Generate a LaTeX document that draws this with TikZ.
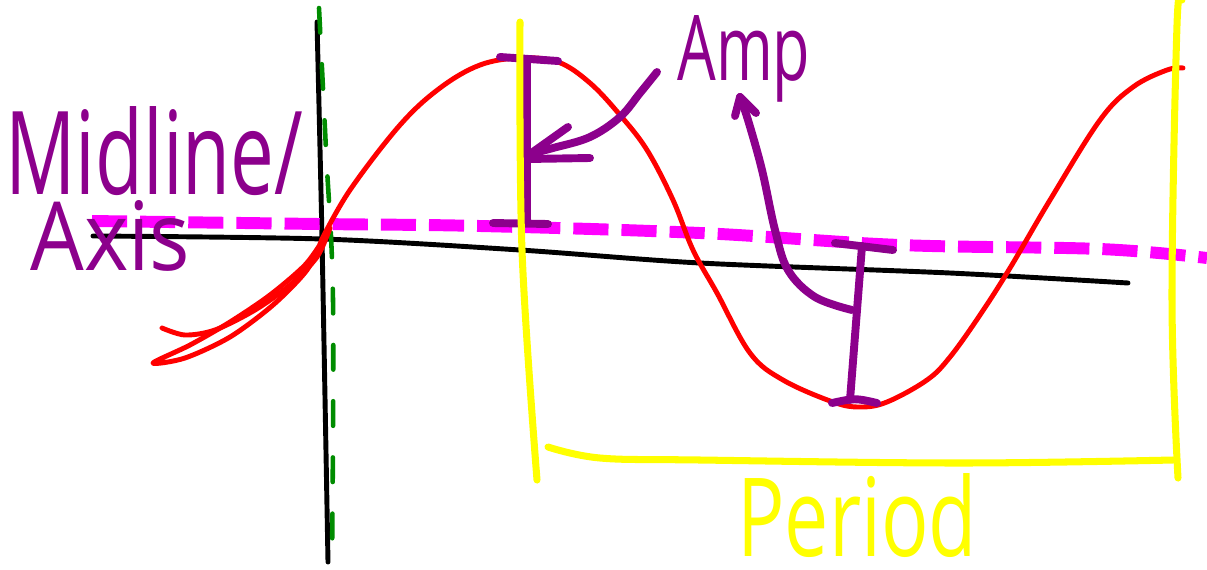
\documentclass[tikz,border=0pt]{standalone}
\usepackage{fontspec}
\setmainfont{Open Sans}
\usetikzlibrary{positioning}
\definecolor{sketchred}{RGB}{255,0,0}
\definecolor{sketchpurple}{RGB}{140,0,140}
\definecolor{sketchmagenta}{RGB}{255,0,255}
\definecolor{sketchyellow}{RGB}{255,255,0}
\definecolor{sketchgreen}{RGB}{0,140,0}

\begin{document}
\begin{tikzpicture}[
    x=0.02cm, y=-0.02cm,
    pen/.style={line cap=round, line join=round},
    axisline/.style={pen, draw=black, line width=2.8pt},
    guideline/.style={pen, draw=sketchgreen, line width=2.6pt, dash pattern=on 14pt off 18pt},
    midline/.style={draw=sketchmagenta, line width=6.8pt, dash pattern=on 20pt off 7.4pt},
    wave/.style={pen, draw=sketchred, line width=2.8pt},
    ampstroke/.style={pen, draw=sketchpurple, line width=4.5pt},
    periodline/.style={pen, draw=sketchyellow, line width=4pt},
    handtext/.style={inner sep=0pt, anchor=base west}
]
\useasboundingbox (0,0) rectangle (1207,569);

% axes
\coordinate (origin) at (322,239);
\draw[axisline] plot[smooth, tension=0.5] coordinates {(93,236) (origin) (520,250) (700,263) (950,273) (1128,283)};
\draw[axisline] plot[smooth, tension=0.5] coordinates {(317,22) (origin) (328,562)};

% midline and y guide
\draw[midline] plot[smooth, tension=0.6] coordinates {(92,221) (320,224) (480,226) (700,233) (900,245) (1100,249) (1207,258)};
\draw[guideline] plot[smooth, tension=0.6] coordinates {(319,8) (326,150) (333,300) (332,560)};

% sine wave
\draw[wave] plot[smooth, tension=0.5] coordinates {(162,328) (185,335) (215,330) (255,310) (290,285) (317,257) (330,228)};
\draw[wave] plot[smooth, tension=0.5] coordinates {(323,240) (305,265) (270,295) (230,322) (190,345) (153,363)
    (185,358) (230,337) (273,305) (307,270) (origin)};
\draw[wave] plot[smooth, tension=0.6] coordinates {(origin) (350,190) (400,125) (440,88) (480,65) (520,58) (558,62)
    (590,83) (620,115) (647,150) (673,200) (693,250) (717,293) (750,353) (783,380) (833,402) (860,407)
    (887,402) (927,380) (950,357) (980,315) (1010,268) (1050,200) (1100,120) (1133,87) (1167,70) (1183,68)};

% amplitude marks
\coordinate (peaktick) at (527,59);
\coordinate (midtick) at (527,221);
\draw[ampstroke] (500,57) -- (558,61);
\draw[ampstroke] (493,223) -- (548,224);
\draw[ampstroke] (peaktick) -- (midtick);
\coordinate (ampfoot) at (530,154);
\draw[ampstroke] plot[smooth, tension=0.6] coordinates {(657,72) (640,93) (620,117) (590,137) (553,148) (ampfoot)};
\draw[ampstroke] (568,127) -- (ampfoot);
\draw[ampstroke] (528,159) -- (590,158);

\coordinate (troughtop) at (862,246);
\coordinate (troughbot) at (850,400);
\draw[ampstroke] (835,243) -- (893,250);
\draw[ampstroke] (troughtop) -- (troughbot);
\draw[ampstroke] (832,403) .. controls (855,398) .. (877,403);
\coordinate (troughmid) at (852,310);
\coordinate (amptip) at (740,97);
\draw[ampstroke] plot[smooth, tension=0.6] coordinates {(troughmid) (815,297) (788,270) (775,230) (762,170) (748,120) (amptip)};
\draw[ampstroke] (735,116) -- (amptip) -- (756,113);

% period
\draw[periodline] plot[smooth, tension=0.6] coordinates {(520,22) (522,250) (537,480)};
\draw[periodline] plot[smooth, tension=0.6] coordinates {(1182,0) (1177,25) (1172,300) (1178,478)};
\draw[periodline] plot[smooth, tension=0.6] coordinates {(548,447) (600,458) (700,460) (960,463) (1173,460)};

% labels
\node[handtext, text=sketchpurple] (midlinetext) at (5,194) {\resizebox{5.96cm}{1.76cm}{Midline\smash{/}}};
\node[handtext, text=sketchpurple] (axistext) at (30,270) {\resizebox{3.2cm}{1.4cm}{Axis}};
\node[handtext, text=sketchpurple] (amptext) at (677,80) {\resizebox{2.66cm}{1.3cm}{Amp}};
\node[handtext, text=sketchyellow] (periodtext) at (737,556) {\resizebox{4.8cm}{1.66cm}{Period}};
\end{tikzpicture}
\end{document}
